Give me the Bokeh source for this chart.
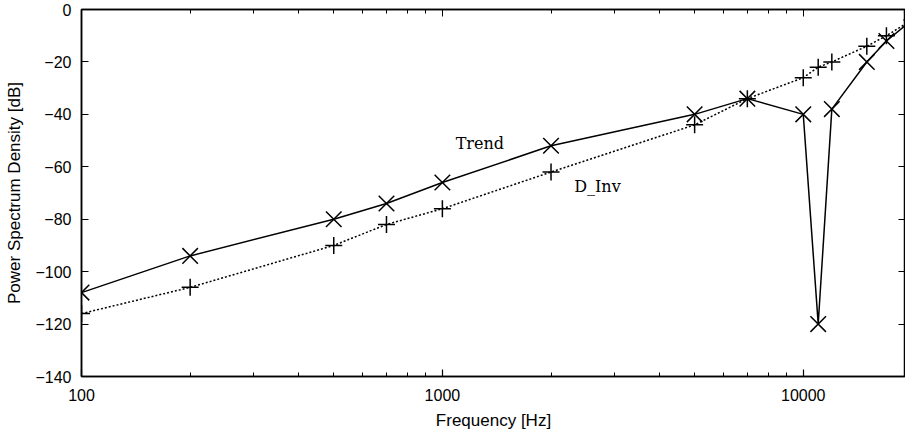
from bokeh.plotting import figure
from bokeh.models import (LinearAxis, LogAxis, LogTicker, SingleIntervalTicker,
                          BasicTickFormatter, Label, Range1d)
from bokeh.embed import file_html
from bokeh.resources import INLINE

# ---- data ----
freq = [100, 200, 500, 700, 1000, 2000, 5000, 7000, 10000, 11000, 12000, 15000, 17000, 20000]
trend = [-108, -94, -80, -74, -66, -52, -40, -34, -40, -120, -38, -20, -12, -4]
d_inv = [-116, -106, -90, -82, -76, -62, -44, -34, -26, -22, -20, -14, -10, -4]
x_tick_values = [100, 1000, 10000]
y_tick_step = 20
series_labels = ["Trend", "D_Inv"]

FONT = "Liberation Sans"

p = figure(width=905, height=433, x_axis_type="log",
           x_range=Range1d(100, 19200), y_range=Range1d(-140, 0),
           output_backend="svg", toolbar_location=None,
           min_border_left=81, min_border_right=0, min_border_top=9,
           min_border_bottom=57)
p.xgrid.visible = False
p.ygrid.visible = False
p.outline_line_color = "black"
p.outline_line_width = 1.5
p.background_fill_color = "white"
p.border_fill_color = "white"

# bottom axis
xa = p.xaxis[0]
xa.ticker = LogTicker(mantissas=[1], num_minor_ticks=10)
xa.formatter = BasicTickFormatter(use_scientific=False)
xa.axis_label = "Frequency [Hz]"

# left axis
ya = p.yaxis[0]
ya.ticker = SingleIntervalTicker(interval=y_tick_step, num_minor_ticks=0)
ya.axis_label = "Power Spectrum Density [dB]"

for ax in (xa, ya):
    ax.axis_line_color = "black"
    ax.axis_line_width = 1.5
    ax.major_tick_in = 7
    ax.major_tick_out = 0
    ax.minor_tick_in = 4
    ax.minor_tick_out = 0
    ax.major_tick_line_color = "black"
    ax.minor_tick_line_color = "black"
    ax.major_tick_line_width = 1.2
    ax.minor_tick_line_width = 1.0
    ax.major_label_text_font = FONT
    ax.major_label_text_font_size = "16px"
    ax.major_label_text_color = "black"
    ax.axis_label_text_font = FONT
    ax.axis_label_text_font_size = "17px"
    ax.axis_label_text_font_style = "normal"
    ax.axis_label_text_color = "black"
ya.minor_tick_in = 0
xa.major_label_standoff = 12
xa.axis_label_standoff = 7
ya.major_label_standoff = 10
ya.axis_label_standoff = 8

# mirrored axes (top and right), ticks only
top = LogAxis(ticker=LogTicker(mantissas=[1], num_minor_ticks=10))
right = LinearAxis(ticker=SingleIntervalTicker(interval=y_tick_step, num_minor_ticks=0))
for ax in (top, right):
    ax.axis_line_color = "black"
    ax.axis_line_width = 1.5
    ax.major_tick_in = 7
    ax.major_tick_out = 0
    ax.minor_tick_in = 4
    ax.minor_tick_out = 0
    ax.major_tick_line_color = "black"
    ax.minor_tick_line_color = "black"
    ax.major_label_text_font_size = "1px"
    ax.major_label_text_color = None
    ax.major_label_standoff = 0
right.minor_tick_in = 0
p.add_layout(top, "above")
p.add_layout(right, "right")

# series
p.line(freq, trend, line_color="black", line_width=1.5)
p.scatter(freq, trend, marker="x", size=22, line_color="black", line_width=1.5)
p.line(freq, d_inv, line_color="black", line_width=1.5, line_dash="2 2")
p.scatter(freq, d_inv, marker="cross", size=17, line_color="black", line_width=1.5)

# in-plot labels
p.add_layout(Label(x=1270, y=-51.3, text=series_labels[0], text_align="center",
                   text_baseline="alphabetic", text_font="DejaVu Serif",
                   text_font_size="16px", text_color="black"))
p.add_layout(Label(x=2690, y=-67.4, text=series_labels[1], text_align="center",
                   text_baseline="alphabetic", text_font="DejaVu Serif",
                   text_font_size="16px", text_color="black"))

open("out.html", "w").write(file_html(p, INLINE))
